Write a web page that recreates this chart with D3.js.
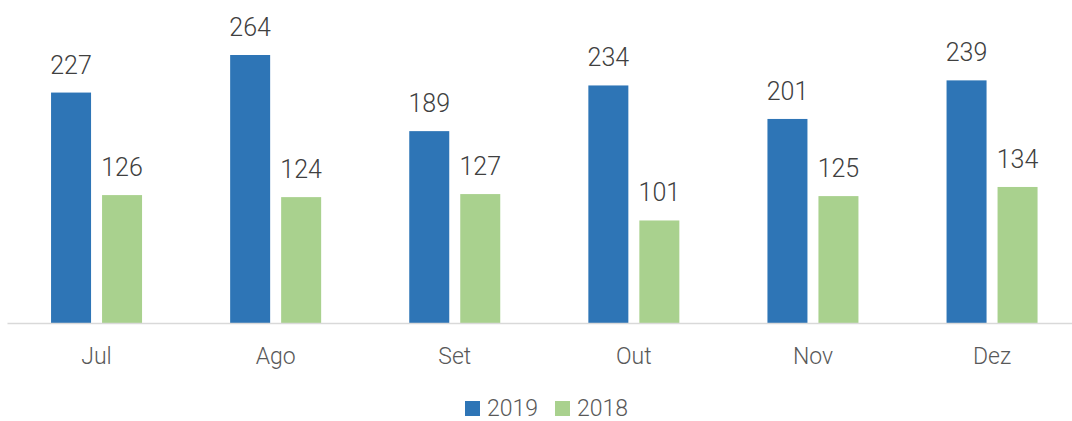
<!DOCTYPE html>
<html lang="pt">
<head>
<meta charset="UTF-8">
<title>2019 vs 2018</title>
<style>
  body { margin: 0; background: #fff; }
  text { font-family: Roboto, "Open Sans", sans-serif; font-weight: 300; }
</style>
</head>
<body>
<div id="chart"></div>
<script src="https://d3js.org/d3.v7.min.js"></script>
<script>
const months = ["Jul", "Ago", "Set", "Out", "Nov", "Dez"];
const series = ["2019", "2018"];
const values2019 = [227, 264, 189, 234, 201, 239];
const values2018 = [126, 124, 127, 101, 125, 134];
const colors = ["#2E75B6", "#A9D18E"];

const W = 1072, H = 421;
const left = 7, right = 1081.6, baseline = 323;

const svg = d3.select("#chart").append("svg")
  .attr("width", W).attr("height", H);

const x = d3.scaleBand().domain(months).range([left, right]).paddingInner(0).paddingOuter(0);
const inner = d3.scaleBand().domain(series).range([0, 91]).paddingInner(11 / 51);
const y = d3.scaleLinear().domain([0, 264]).range([baseline, 55]);

const rows = months.map((m, i) => ({ month: m, vals: [values2019[i], values2018[i]] }));

const groups = svg.selectAll("g.month").data(rows).enter().append("g")
  .attr("class", "month")
  .attr("transform", d => `translate(${x(d.month) + (x.bandwidth() - 91) / 2},0)`);

groups.selectAll("rect").data(d => d.vals.map((v, j) => ({ s: series[j], v, j })))
  .enter().append("rect")
  .attr("x", d => inner(d.s))
  .attr("width", inner.bandwidth())
  .attr("y", d => y(d.v))
  .attr("height", d => baseline - y(d.v))
  .attr("fill", d => colors[d.j]);

groups.selectAll("text.val").data(d => d.vals.map((v, j) => ({ s: series[j], v, j })))
  .enter().append("text")
  .attr("class", "val")
  .attr("x", d => inner(d.s) + inner.bandwidth() / 2)
  .attr("y", d => y(d.v) - 19)
  .attr("text-anchor", "middle")
  .attr("font-size", 25)
  .attr("fill", "#404040")
  .text(d => d.v);

// axis
const axis = svg.append("g").attr("transform", `translate(0,${baseline})`)
  .call(d3.axisBottom(x).tickSize(0).tickPadding(0));
axis.select(".domain").attr("stroke", "#d9d9d9").attr("stroke-width", 1.5);
axis.selectAll(".tick text")
  .attr("dy", 0).attr("y", 41)
  .attr("font-size", 23).attr("font-family", "Roboto, sans-serif")
  .attr("font-weight", 300).attr("fill", "#595959");

// legend
const legend = svg.append("g");
const legendX = [465, 555];
series.forEach((s, i) => {
  legend.append("rect").attr("x", legendX[i]).attr("y", 401)
    .attr("width", 15).attr("height", 15).attr("fill", colors[i]);
  legend.append("text").attr("x", legendX[i] + 22).attr("y", 416)
    .attr("font-size", 23).attr("fill", "#595959").text(s);
});
</script>
</body>
</html>
